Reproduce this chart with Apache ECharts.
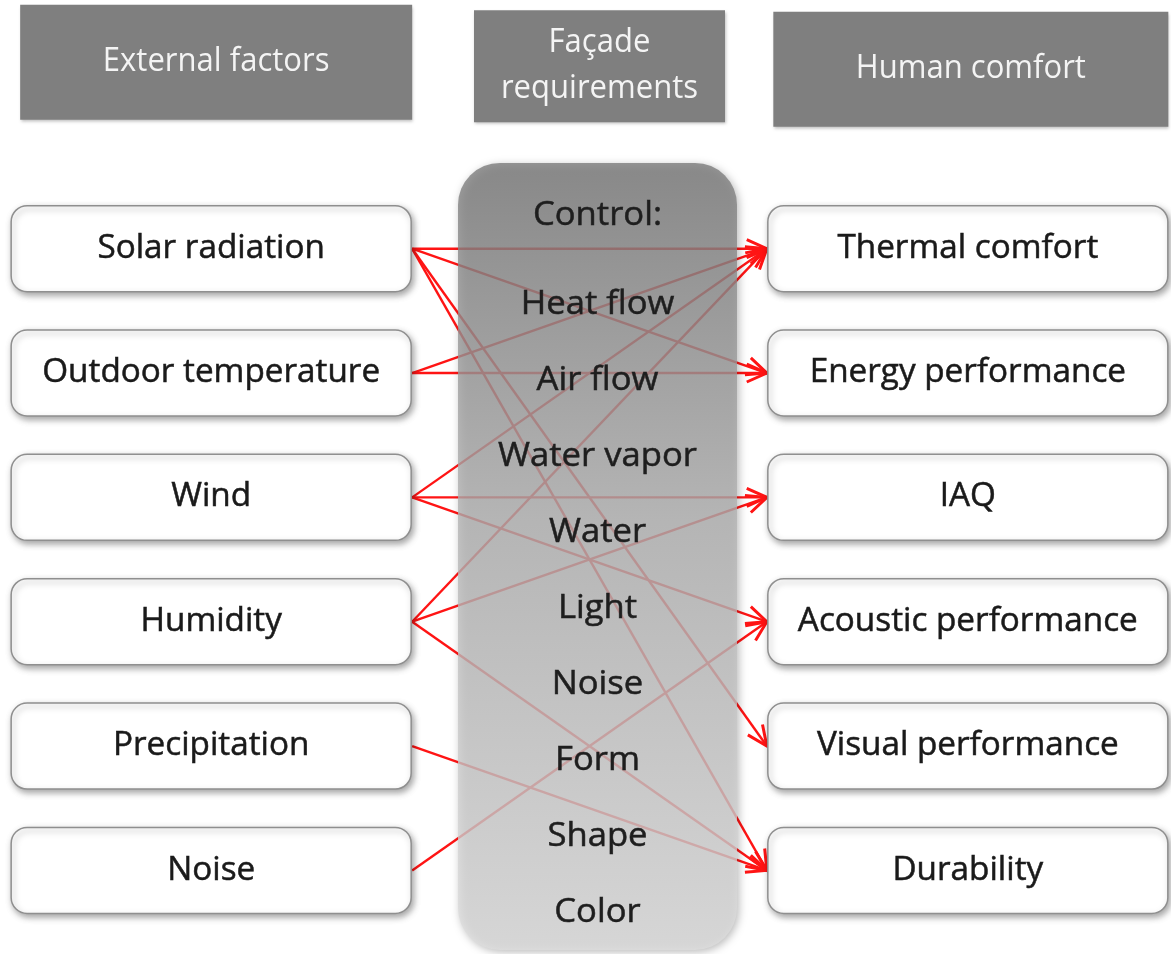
<!DOCTYPE html>
<html>
<head>
<meta charset="utf-8">
<script src="https://cdn.jsdelivr.net/npm/echarts/dist/echarts.min.js"></script>
<style>
html,body{margin:0;padding:0;background:#ffffff;}
#chart{width:1171px;height:954px;}
</style>
</head>
<body>
<div id="chart"></div>
<script>
// ---------------- data ----------------
const headers = ['External factors', 'Façade\nrequirements', 'Human comfort'];
const externalFactors = ['Solar radiation', 'Outdoor temperature', 'Wind', 'Humidity', 'Precipitation', 'Noise'];
const controlTitle = 'Control:';
const controls = ['Heat flow', 'Air flow', 'Water vapor', 'Water', 'Light', 'Noise', 'Form', 'Shape', 'Color'];
const humanComfort = ['Thermal comfort', 'Energy performance', 'IAQ', 'Acoustic performance', 'Visual performance', 'Durability'];
const links = [
  ['Solar radiation', 'Thermal comfort'],
  ['Solar radiation', 'Energy performance'],
  ['Solar radiation', 'Visual performance'],
  ['Solar radiation', 'Durability'],
  ['Outdoor temperature', 'Thermal comfort'],
  ['Outdoor temperature', 'Energy performance'],
  ['Wind', 'Thermal comfort'],
  ['Wind', 'IAQ'],
  ['Wind', 'Acoustic performance'],
  ['Humidity', 'Thermal comfort'],
  ['Humidity', 'IAQ'],
  ['Humidity', 'Durability'],
  ['Precipitation', 'Durability'],
  ['Noise', 'Acoustic performance']
];

// ---------------- layout (pixels / row units) ----------------
const BOX_W = 400, BOX_H = 86, BOX_R = 16;
const HEADER_ROW = -1.5;
const HEADER_LAYOUT = [ // [width, height, dx, dy]
  [392, 115, 5, 0],
  [251, 112, 10, 4],
  [395, 115, 3, 7]
];
const CENTER_BOX = {top: -0.69, bottom: 5.64, width: 279, dx: 8, r: 42};
const CTRL_TITLE_ROW = -0.27, CTRL_FIRST_ROW = 0.45, CTRL_STEP = 0.611;
const FONT = '"Open Sans", "Noto Sans", sans-serif';
const RED = '#ff1414';

const chart = echarts.init(document.getElementById('chart'), null, {renderer: 'canvas'});

const boxData = externalFactors.map((n, i) => [0, i, n]).concat(humanComfort.map((n, i) => [2, i, n]));
const linkData = links.map(l => [externalFactors.indexOf(l[0]), humanComfort.indexOf(l[1])]);
const ctrlData = [[1, CTRL_TITLE_ROW, controlTitle]].concat(controls.map((n, i) => [1, CTRL_FIRST_ROW + i * CTRL_STEP, n]));
const headerData = headers.map((h, i) => [i, HEADER_ROW, h]);

const shadow = {shadowBlur: 6, shadowOffsetX: 2, shadowOffsetY: 3, shadowColor: 'rgba(0,0,0,0.35)'};

const option = {
  animation: false,
  backgroundColor: '#ffffff',
  grid: {left: 22, right: 14, top: 0, bottom: 9},
  xAxis: {type: 'value', min: -0.5, max: 2.5, show: false},
  yAxis: {type: 'value', min: -2, max: 5.6, inverse: true, show: false},
  series: [
    { // links
      type: 'custom', z: 1, clip: false, silent: true,
      data: linkData,
      renderItem: function (params, api) {
        const s = api.coord([0, api.value(0)]);
        const t = api.coord([2, api.value(1)]);
        const x1 = s[0] + BOX_W / 2 + 1, y1 = s[1];
        const x2 = t[0] - BOX_W / 2 - 1, y2 = t[1];
        const a = Math.atan2(y2 - y1, x2 - x1);
        const L = 22, th = 0.42;
        const h1 = [x2 - L * Math.cos(a - th), y2 - L * Math.sin(a - th)];
        const h2 = [x2 - L * Math.cos(a + th), y2 - L * Math.sin(a + th)];
        return {
          type: 'group',
          children: [
            {type: 'line', shape: {x1: x1, y1: y1, x2: x2, y2: y2}, style: {stroke: RED, lineWidth: 2.4}},
            {type: 'polyline', shape: {points: [h1, [x2, y2], h2]}, style: {stroke: RED, lineWidth: 3, fill: null, lineJoin: 'miter'}}
          ]
        };
      }
    },
    { // central façade requirements box
      type: 'custom', z: 2, clip: false, silent: true,
      data: [[1, 0]],
      renderItem: function (params, api) {
        const top = api.coord([1, CENTER_BOX.top]);
        const bot = api.coord([1, CENTER_BOX.bottom]);
        const cx = top[0] + CENTER_BOX.dx;
        return {
          type: 'rect',
          shape: {x: cx - CENTER_BOX.width / 2, y: top[1], width: CENTER_BOX.width, height: bot[1] - top[1], r: CENTER_BOX.r},
          style: {
            fill: new echarts.graphic.LinearGradient(0, 0, 0, 1, [
              {offset: 0, color: '#7a7a7a'},
              {offset: 0.45, color: '#b3b3b3'},
              {offset: 1, color: '#dedede'}
            ]),
            opacity: 0.78,
            shadowBlur: 8, shadowOffsetX: 2, shadowOffsetY: 2, shadowColor: 'rgba(0,0,0,0.35)'
          }
        };
      }
    },
    { // control labels
      type: 'custom', z: 3, clip: false, silent: true,
      data: ctrlData,
      renderItem: function (params, api) {
        const c = api.coord([1, api.value(1)]);
        return {
          type: 'text', x: c[0] + CENTER_BOX.dx, y: c[1], scaleX: 1.05,
          style: {text: ctrlData[params.dataIndex][2], fill: '#1e1e1e', font: '33px ' + FONT, align: 'center', verticalAlign: 'middle',
                  stroke: '#1e1e1e', lineWidth: 0.5}
        };
      }
    },
    { // side boxes
      type: 'custom', z: 4, clip: false, silent: true,
      data: boxData,
      renderItem: function (params, api) {
        const c = api.coord([api.value(0), api.value(1)]);
        return {
          type: 'group',
          children: [
            {type: 'rect', shape: {x: c[0] - BOX_W / 2, y: c[1] - BOX_H / 2, width: BOX_W, height: BOX_H, r: BOX_R},
             style: Object.assign({fill: '#ffffff', stroke: '#8f8f8f', lineWidth: 1.5}, shadow)},
            {type: 'text', x: c[0], y: c[1], scaleX: 1.04,
             style: {text: boxData[params.dataIndex][2], fill: '#1a1a1a', font: '32px ' + FONT, align: 'center', verticalAlign: 'middle',
                     stroke: '#1a1a1a', lineWidth: 0.5}}
          ]
        };
      }
    },
    { // headers
      type: 'custom', z: 4, clip: false, silent: true,
      data: headerData,
      renderItem: function (params, api) {
        const i = params.dataIndex;
        const c = api.coord([api.value(0), api.value(1)]);
        const L = HEADER_LAYOUT[i];
        const cx = c[0] + L[2], cy = c[1] + L[3];
        return {
          type: 'group',
          children: [
            {type: 'rect', shape: {x: cx - L[0] / 2, y: cy - L[1] / 2, width: L[0], height: L[1]},
             style: Object.assign({fill: '#7f7f7f'}, {shadowBlur: 3, shadowOffsetX: 1, shadowOffsetY: 2, shadowColor: 'rgba(0,0,0,0.25)'})},
            {type: 'text', x: cx, y: cy, scaleX: 0.97, scaleY: 1.0,
             style: {text: headers[i], fill: '#f4f4f4', font: '32px ' + FONT, align: 'center', verticalAlign: 'middle', lineHeight: 46}}
          ]
        };
      }
    }
  ]
};
chart.setOption(option);
</script>
</body>
</html>
